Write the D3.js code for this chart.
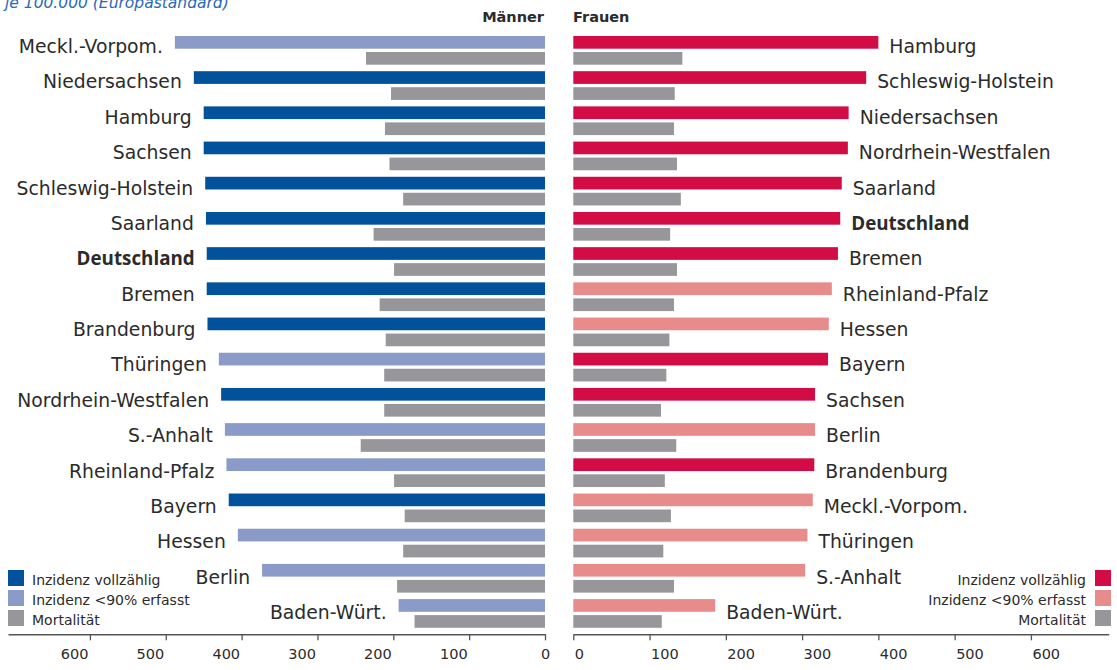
<!DOCTYPE html>
<html>
<head>
<meta charset="utf-8">
<script src="https://cdn.jsdelivr.net/npm/d3@7"></script>
<style>
  html, body { margin: 0; padding: 0; background: #fff; }
  svg { display: block; font-family: "DejaVu Sans", sans-serif; }
</style>
</head>
<body>
<svg id="chart" width="1117" height="670"></svg>
<script>
// ---- data ----
const menCats = ["Meckl.-Vorpom.","Niedersachsen","Hamburg","Sachsen","Schleswig-Holstein","Saarland","Deutschland","Bremen","Brandenburg","Thüringen","Nordrhein-Westfalen","S.-Anhalt","Rheinland-Pfalz","Bayern","Hessen","Berlin","Baden-Würt."];
const menIncidence = [488,463,450,450,448,447,446,446,445,430,427,422,420,417,405,373,193];
const menMortality = [236,203,211,205,187,226,199,218,210,212,212,243,199,185,187,195,172];
const menComplete  = [0,1,1,1,1,1,1,1,1,0,1,0,0,1,0,0,0];

const womenCats = ["Hamburg","Schleswig-Holstein","Niedersachsen","Nordrhein-Westfalen","Saarland","Deutschland","Bremen","Rheinland-Pfalz","Hessen","Bayern","Sachsen","Berlin","Brandenburg","Meckl.-Vorpom.","Thüringen","S.-Anhalt","Baden-Würt."];
const womenIncidence = [400,384,361,360,352,350,347,339,335,334,317,317,316,314,307,304,186];
const womenMortality = [143,133,132,136,141,127,136,132,126,122,115,135,120,128,118,132,116];
const womenComplete  = [1,1,1,1,1,1,1,0,0,1,1,0,1,0,0,0,0];

const tickValues = [0,100,200,300,400,500,600];
const legendLabels = ["Inzidenz vollzählig","Inzidenz <90% erfasst","Mortalität"];
const headerMen = "Männer", headerWomen = "Frauen";
const subtitle = "je 100.000 (Europastandard)";

// ---- styles ----
const C = {
  menFull: "#02529b", menPart: "#8a9bc9",
  womenFull: "#d20c45", womenPart: "#e88c8b",
  mort: "#97979b", text: "#2b2b2b", axis: "#555"
};
const labelSize = 18.8;

const svg = d3.select("#chart");
const n = menCats.length;
const axisY = 634.3;

const yBand = d3.scaleBand().domain(d3.range(n)).range([36, axisY]);
const yLab = d3.scaleLinear().domain([0, n - 1]).range([53, 619]);
const barH = 12.7, mortOff = 16;

const xMen = d3.scaleLinear().domain([0, 708]).range([545, 8]);
const xWomen = d3.scaleLinear().domain([0, 702]).range([573.3, 1108.7]);

// subtitle (clipped at top, as in the source)
svg.append("text").attr("x", 5).attr("y", 8)
  .attr("font-size", 15.5).attr("font-style", "italic")
  .attr("fill", "#2a6ab5").text(subtitle);

// headers
svg.append("text").attr("x", 544).attr("y", 22).attr("text-anchor", "end")
  .attr("font-size", 14.5).attr("font-weight", "bold").attr("fill", C.text).text(headerMen);
svg.append("text").attr("x", 573).attr("y", 22)
  .attr("font-size", 14.5).attr("font-weight", "bold").attr("fill", C.text).text(headerWomen);

function labelFont(sel) {
  sel.attr("font-size", labelSize).attr("fill", C.text)
    .attr("font-weight", d => d === "Deutschland" ? "bold" : "normal")
    .attr("font-family", d => d === "Deutschland" ? "'Open Sans', sans-serif" : "'DejaVu Sans', sans-serif");
}

// men bars
const gm = svg.append("g");
gm.selectAll("rect.inc").data(menIncidence).join("rect").attr("class", "inc")
  .attr("x", d => xMen(d)).attr("width", d => xMen(0) - xMen(d))
  .attr("y", (d, i) => yBand(i)).attr("height", barH)
  .attr("fill", (d, i) => menComplete[i] ? C.menFull : C.menPart);
gm.selectAll("rect.mort").data(menMortality).join("rect").attr("class", "mort")
  .attr("x", d => xMen(d)).attr("width", d => xMen(0) - xMen(d))
  .attr("y", (d, i) => yBand(i) + mortOff).attr("height", barH)
  .attr("fill", C.mort);
gm.selectAll("text").data(menCats).join("text")
  .attr("x", (d, i) => xMen(menIncidence[i]) - 12)
  .attr("y", (d, i) => yLab(i))
  .attr("text-anchor", "end")
  .call(labelFont)
  .text(d => d);

// women bars
const gw = svg.append("g");
gw.selectAll("rect.inc").data(womenIncidence).join("rect").attr("class", "inc")
  .attr("x", xWomen(0)).attr("width", d => xWomen(d) - xWomen(0))
  .attr("y", (d, i) => yBand(i)).attr("height", barH)
  .attr("fill", (d, i) => womenComplete[i] ? C.womenFull : C.womenPart);
gw.selectAll("rect.mort").data(womenMortality).join("rect").attr("class", "mort")
  .attr("x", xWomen(0)).attr("width", d => xWomen(d) - xWomen(0))
  .attr("y", (d, i) => yBand(i) + mortOff).attr("height", barH)
  .attr("fill", C.mort);
gw.selectAll("text").data(womenCats).join("text")
  .attr("x", (d, i) => xWomen(womenIncidence[i]) + 11)
  .attr("y", (d, i) => yLab(i))
  .call(labelFont)
  .text(d => d);

// axes
function styleAxis(g, side) {
  g.select(".domain").attr("stroke", C.axis).attr("stroke-width", 1.6);
  g.selectAll(".tick line").attr("stroke", C.axis).attr("stroke-width", 1.3);
  g.selectAll(".tick text")
    .attr("y", 25).attr("dy", 0).attr("font-size", 14.5).attr("fill", C.text)
    .attr("font-family", "DejaVu Sans, sans-serif")
    .attr("text-anchor", d => side === "left" ? (d === 0 ? "middle" : "end") : "start")
    .attr("x", d => side === "left" ? (d === 0 ? 0 : -2) : 1);
}
const axM = svg.append("g").attr("transform", `translate(0,${axisY})`)
  .call(d3.axisBottom(xMen).tickValues(tickValues).tickSize(6).tickSizeOuter(0));
styleAxis(axM, "left");
const axW = svg.append("g").attr("transform", `translate(0,${axisY})`)
  .call(d3.axisBottom(xWomen).tickValues(tickValues).tickSize(6).tickSizeOuter(0));
styleAxis(axW, "right");

// legends
const legMenColors = [C.menFull, C.menPart, C.mort];
const legWomenColors = [C.womenFull, C.womenPart, C.mort];
const legY = d3.scaleLinear().domain([0, 2]).range([570, 610]);
const lm = svg.append("g");
legendLabels.forEach((t, i) => {
  lm.append("rect").attr("x", 8).attr("y", legY(i)).attr("width", 16).attr("height", 16).attr("fill", legMenColors[i]);
  lm.append("text").attr("x", 32).attr("y", legY(i) + 15).attr("font-size", 14).attr("fill", C.text).text(t);
});
const lw = svg.append("g");
legendLabels.forEach((t, i) => {
  lw.append("rect").attr("x", 1095).attr("y", legY(i)).attr("width", 16).attr("height", 16).attr("fill", legWomenColors[i]);
  lw.append("text").attr("x", 1086).attr("y", legY(i) + 15).attr("text-anchor", "end").attr("font-size", 14).attr("fill", C.text).text(t);
});
</script>
</body>
</html>
